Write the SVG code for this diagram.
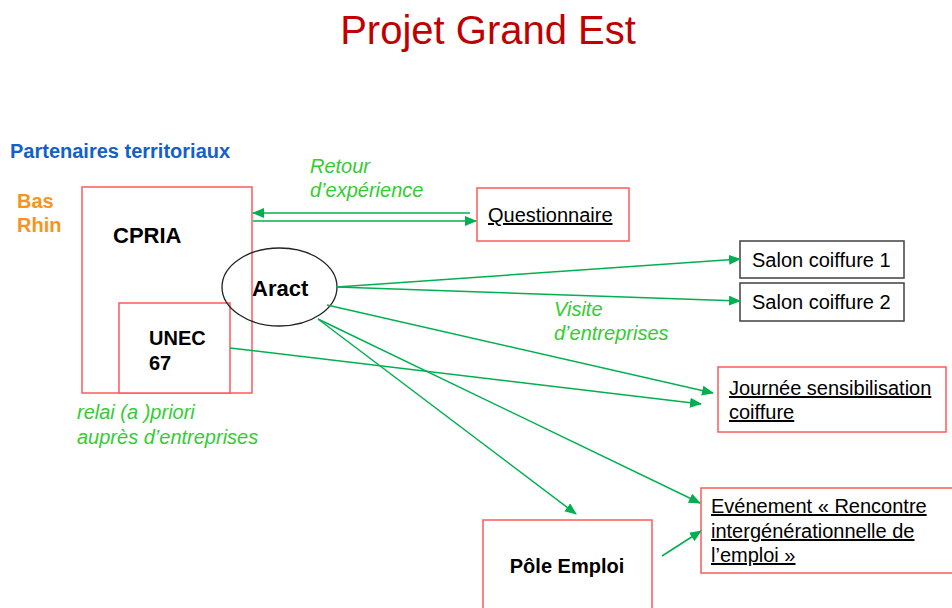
<svg xmlns="http://www.w3.org/2000/svg" width="952" height="608" viewBox="0 0 952 608">
<style>
text{font-family:"Liberation Sans",Arial,sans-serif;font-size:20px;fill:#000}
.b{font-weight:bold}
.lbl{font-style:italic;fill:#33CC33}
.u{text-decoration:underline}
.rbox{fill:#fff;stroke:#FF5A5A;stroke-width:1.5}
.gbox{fill:#fff;stroke:#404040;stroke-width:1.5}
.c{stroke:#00B050;stroke-width:1.5;fill:none;marker-end:url(#ah)}
</style>
<defs>
<marker id="ah" markerUnits="userSpaceOnUse" markerWidth="12" markerHeight="10" refX="11" refY="5" orient="auto">
<path d="M0,0 L12,5 L0,10 Z" fill="#00B050"/>
</marker>
</defs>
<rect width="952" height="608" fill="#fff"/>
<text x="488" y="44" text-anchor="middle" style="font-size:40px;fill:#C00000">Projet Grand Est</text>
<text x="10" y="158" class="b" style="fill:#1460C8">Partenaires territoriaux</text>
<text class="b" style="fill:#F7941D"><tspan x="17" y="208">Bas</tspan><tspan x="17" y="232">Rhin</tspan></text>

<g id="cpria">
<rect x="82" y="187" width="170" height="206" class="rbox"/>
<text x="113" y="243" class="b" style="font-size:22px">CPRIA</text>
</g>
<g id="unec">
<rect x="119" y="303" width="111" height="90" class="rbox"/>
<text class="b"><tspan x="149" y="345">UNEC</tspan><tspan x="149" y="370">67</tspan></text>
</g>
<g id="aract">
<ellipse cx="279.5" cy="287" rx="57.5" ry="39" fill="none" stroke="#222" stroke-width="1.3"/>
<text x="252" y="296" class="b" style="font-size:22px">Aract</text>
</g>
<g id="questionnaire">
<rect x="477" y="188" width="152" height="53" class="rbox"/>
<text x="488" y="222" class="u">Questionnaire</text>
</g>
<g id="salon1">
<rect x="740" y="241" width="164" height="37" class="gbox"/>
<text x="752" y="267">Salon coiffure 1</text>
</g>
<g id="salon2">
<rect x="740" y="283" width="164" height="38" class="gbox"/>
<text x="752" y="309">Salon coiffure 2</text>
</g>
<g id="journee">
<rect x="718" y="367" width="228" height="65" class="rbox"/>
<text class="u"><tspan x="729" y="395">Journée sensibilisation</tspan><tspan x="729" y="419">coiffure</tspan></text>
</g>
<g id="pole">
<rect x="483" y="520" width="169" height="100" class="rbox"/>
<text x="567" y="573" text-anchor="middle" class="b">Pôle Emploi</text>
</g>
<g id="evenement">
<rect x="701" y="488" width="252" height="85" class="rbox"/>
<text class="u"><tspan x="711" y="513">Evénement « Rencontre</tspan><tspan x="711" y="538">intergénérationnelle de</tspan><tspan x="711" y="562">l’emploi »</tspan></text>
</g>

<g id="connectors">
<line x1="470" y1="213" x2="253" y2="213" class="c"/>
<line x1="253" y1="221" x2="476" y2="221" class="c"/>
<line x1="337" y1="287" x2="740" y2="259" class="c"/>
<line x1="337" y1="287" x2="740" y2="301" class="c"/>
<line x1="327" y1="305" x2="713" y2="393" class="c"/>
<line x1="230" y1="348" x2="701" y2="404" class="c"/>
<line x1="318" y1="319" x2="576" y2="514" class="c"/>
<line x1="318" y1="319" x2="700" y2="503" class="c"/>
<line x1="662" y1="556" x2="701" y2="531" class="c"/>
</g>

<text class="lbl"><tspan x="310" y="173">Retour</tspan><tspan x="310" y="197">d’expérience</tspan></text>
<text class="lbl"><tspan x="554" y="316">Visite</tspan><tspan x="554" y="340">d’entreprises</tspan></text>
<text class="lbl"><tspan x="77" y="419">relai (a )priori</tspan><tspan x="77" y="444">auprès d’entreprises</tspan></text>
</svg>
